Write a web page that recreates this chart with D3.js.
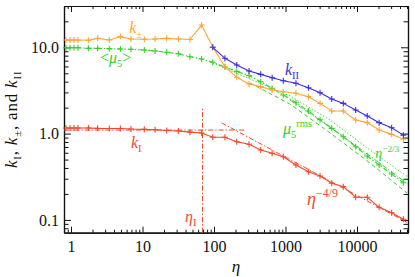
<!DOCTYPE html>
<html>
<head>
<meta charset="utf-8">
<script src="https://cdn.jsdelivr.net/npm/d3@7"></script>
<style>
  body { margin: 0; background: #fff; }
  svg { display: block; }
  .axis path { stroke: #111; stroke-width: 1.2; }
  .axis line { stroke: #111; stroke-width: 1; }
  .axis text { font-family: "Liberation Serif", serif; font-size: 16px; fill: #111; }
</style>
</head>
<body>
<div id="chart"></div>
<script>
// time grid (eta) shared by the marked curves
const eta = [0.85, 0.97, 1.1, 1.25, 1.75, 2.36, 3.43, 4.9, 6.9, 10.6, 15, 21.8, 31.7, 46, 67,
  96, 142, 208, 309, 450, 650, 931, 1400, 2090, 3040, 4430, 6430, 9570, 13900, 20400, 30500, 44500]

const kPM = [12.15, 12.15, 12.15, 12.15, 12.05, 12.7, 12.15, 13.3, 12.5, 12.4, 12.5, 12.7, 12.5, 12.3, 18.1,
  10.1, 5.96, 4.49, 3.75, 3.5, 3.2, 3.06, 2.93, 2.68, 2.24, 1.83, 1.83, 1.44, 1.34, 1.10, 0.98, 0.86]

const mu5 = [9.9, 9.9, 9.9, 9.9, 9.73, 9.73, 9.65, 9.56, 9.48, 9.3, 9.06, 8.75, 8.41, 7.78, 7.32,
  6.70, 5.91, 5.25, 4.71, 3.99, 3.35, 2.80, 2.28, 1.83, 1.45, 1.15, 0.92, 0.705, 0.55, 0.433, 0.34, 0.27]

const kI = [1.16, 1.16, 1.16, 1.16, 1.16, 1.15, 1.146, 1.146, 1.13, 1.12, 1.11, 1.086, 1.07, 1.04, 1.016,
  0.906, 0.906, 0.806, 0.752, 0.646, 0.591, 0.54, 0.433, 0.362, 0.323, 0.266, 0.243, 0.183, 0.183, 0.140, 0.121, 0.1016]

const etaII = [96, 142, 208, 309, 450, 650, 931, 1400, 2090, 3040, 4430, 6430, 9570, 13900, 20400, 30500, 44500]
const kII = [10.0, 7.46, 6.24, 5.31, 4.86, 4.44, 4.10, 3.83, 3.40, 2.98, 2.52, 2.24, 1.88, 1.60, 1.34, 1.17, 0.96]

// mu5 rms curves (no markers)
const rmsDotEta = [97, 319, 1157, 4190, 15200, 51600]
const rmsDot = [6.56, 4.29, 2.73, 1.44, 0.645, 0.314]
const rmsDashEta = [319, 1157, 4190, 15200, 50000]
const rmsDash = [3.86, 2.20, 1.02, 0.456, 0.205]
const rmsDashDotEta = [1157, 4190, 15200, 51600]
const rmsDashDot = [2.45, 1.19, 0.55, 0.26]

// red reference lines
const flatEta = [0.8, 280]
const flatVal = [1.10, 1.10]
const slopeEta = [128, 50000]
const slopeVal = [11.5 * Math.pow(128, -4 / 9), 11.5 * Math.pow(50000, -4 / 9)]
const etaI = 67
const etaITop = 2.03

// ticks
const xMajor = [1, 10, 100, 1000, 10000]
const yMajor = [0.1, 1, 10]

const COL = { pm: "#ffa531", II: "#3b2de0", mu: "#33d12b", I: "#f4472a" }
const SERIF = '"Liberation Serif", "Times New Roman", serif'

const W = 415, H = 277
const PLOT = { L: 64, R: 408, T: 6, B: 232.7 }

const svg = d3.select("#chart").append("svg")
  .attr("width", W)
  .attr("height", H)

const x = d3.scaleLog().domain([0.798, 51650]).range([PLOT.L, PLOT.R])
const y = d3.scaleLog().domain([0.0711, 30.1]).range([PLOT.B, PLOT.T])

// minor ticks 2..9 per decade
function minors(scale) {
  const [a, b] = scale.domain()
  const out = []
  for (let e = Math.floor(Math.log10(a)); e <= Math.ceil(Math.log10(b)); e++) {
    for (let m = 2; m <= 9; m++) {
      const v = m * Math.pow(10, e)
      if (v >= a && v <= b) out.push(v)
    }
  }
  return out
}

// Axes: box with inward ticks on all four sides
svg.append("g").attr("class", "axis")
  .attr("transform", `translate(0, ${PLOT.B})`)
  .call(d3.axisBottom(x).tickValues(xMajor).tickSize(-6).tickSizeOuter(0).tickPadding(8)
    .tickFormat(d3.format("d")))
svg.append("g").attr("class", "axis")
  .attr("transform", `translate(0, ${PLOT.B})`)
  .call(d3.axisBottom(x).tickValues(minors(x)).tickSize(-3).tickSizeOuter(0).tickFormat(""))
svg.append("g").attr("class", "axis")
  .attr("transform", `translate(0, ${PLOT.T})`)
  .call(d3.axisTop(x).tickValues(xMajor).tickSize(-6).tickSizeOuter(0).tickFormat(""))
svg.append("g").attr("class", "axis")
  .attr("transform", `translate(0, ${PLOT.T})`)
  .call(d3.axisTop(x).tickValues(minors(x)).tickSize(-3).tickSizeOuter(0).tickFormat(""))

svg.append("g").attr("class", "axis")
  .attr("transform", `translate(${PLOT.L}, 0)`)
  .call(d3.axisLeft(y).tickValues(yMajor).tickSize(-7).tickSizeOuter(0).tickPadding(5)
    .tickFormat(d3.format(".1f")))
svg.append("g").attr("class", "axis")
  .attr("transform", `translate(${PLOT.L}, 0)`)
  .call(d3.axisLeft(y).tickValues(minors(y)).tickSize(-4.5).tickSizeOuter(0).tickFormat(""))
svg.append("g").attr("class", "axis")
  .attr("transform", `translate(${PLOT.R}, 0)`)
  .call(d3.axisRight(y).tickValues(yMajor).tickSize(-7).tickSizeOuter(0).tickFormat(""))
svg.append("g").attr("class", "axis")
  .attr("transform", `translate(${PLOT.R}, 0)`)
  .call(d3.axisRight(y).tickValues(minors(y)).tickSize(-4.5).tickSizeOuter(0).tickFormat(""))

const plot = svg.append("g")

const line = d3.line().x(d => x(d[0])).y(d => y(d[1]))

function curve(xs, ys, color, dash, marks, width) {
  const pts = d3.zip(xs, ys)
  const p = plot.append("path")
    .datum(pts)
    .attr("fill", "none")
    .attr("stroke", color)
    .attr("stroke-width", width || 1.1)
    .attr("stroke-dasharray", dash || null)
    .attr("d", line)
  if (marks) {
    plot.selectAll(null)
      .data(pts)
      .enter().append("path")
      .attr("transform", d => `translate(${x(d[0])}, ${y(d[1])})`)
      .attr("d", "M-3,0H3M0,-3V3")
      .attr("stroke", color)
      .attr("stroke-width", 1.1)
  }
  return p
}

// green rms curves
curve(rmsDotEta, rmsDot, COL.mu, "1.3,2", false, 1)
curve(rmsDashEta, rmsDash, COL.mu, "4,3", false, 1)
curve(rmsDashDotEta, rmsDashDot, COL.mu, "5,2,1.3,2", false, 1)

// red references
curve(flatEta, flatVal, COL.I, "5,2,1.3,2", false, 1)
curve(slopeEta, slopeVal, COL.I, "5,2,1.3,2", false, 1)
plot.append("line")
  .attr("x1", Math.round(x(etaI)) + 0.5).attr("x2", Math.round(x(etaI)) + 0.5)
  .attr("y1", y(y.domain()[0])).attr("y2", y(etaITop))
  .attr("stroke", COL.I)
  .attr("stroke-width", 1)
  .attr("stroke-dasharray", "5,2,1.5,2")

// main curves
curve(eta, mu5, COL.mu, "5,2,1.3,2", true)
curve(eta, kPM, COL.pm, null, true)
curve(eta, kI, COL.I, null, true)
curve(etaII, kII, COL.II, null, true)

// text labels with sub/superscripts
function label(px, py, parts, color, size, anchor) {
  const t = plot.append("text")
    .attr("x", px).attr("y", py)
    .attr("fill", color)
    .attr("text-anchor", anchor || "start")
    .style("font-family", SERIF)
    .style("font-size", size + "px")
  let shift = 0
  parts.forEach(p => {
    const s = p.sub ? size * 0.28 : p.sup ? -size * 0.45 : 0
    t.append("tspan")
      .attr("dy", s - shift)
      .style("font-style", p.it ? "italic" : "normal")
      .style("font-size", (p.sub || p.sup ? size * 0.66 : size) + "px")
      .text(p.t)
    shift = s
  })
  return t
}

label(x(6.5), y(14.6), [{ t: "k", it: true }, { t: "±", sub: true }], COL.pm, 16)
label(x(2.54), y(6.58), [{ t: "<" }, { t: "μ", it: true }, { t: "5", sub: true }, { t: ">" }], COL.mu, 16)
label(x(984), y(4.78), [{ t: "k", it: true }, { t: "II", sub: true }], COL.II, 16)
label(x(923), y(0.99), [{ t: "μ", it: true }, { t: "5", sub: true }, { t: "rms", sup: true }], COL.mu, 16)
label(x(6.9), y(0.681), [{ t: "k", it: true }, { t: "I", sub: true }], COL.I, 16)
label(x(39.3), y(0.0946), [{ t: "η", it: true }, { t: "I", sub: true }], COL.I, 16)
label(x(2000), y(0.149), [{ t: "η", it: true }, { t: "−4/9", sup: true }], COL.I, 18)
label(x(18000), y(0.521), [{ t: "η", it: true }, { t: "−2/3", sup: true }], COL.mu, 14)

// axis titles
svg.append("text")
  .attr("x", (PLOT.L + PLOT.R) / 2).attr("y", 272)
  .attr("text-anchor", "middle")
  .style("font-family", SERIF).style("font-size", "17px").style("font-style", "italic")
  .attr("fill", "#111")
  .text("η")

const yt = svg.append("text")
  .attr("transform", `translate(17, ${(PLOT.T + PLOT.B) / 2}) rotate(-90)`)
  .attr("text-anchor", "middle")
  .style("font-family", SERIF).style("font-size", "17px")
  .style("letter-spacing", "0.8px")
  .attr("fill", "#111")
const yParts = [{ t: "k", it: true }, { t: "I", sub: true }, { t: ", " }, { t: "k", it: true }, { t: "±", sub: true },
  { t: ", and " }, { t: "k", it: true }, { t: "II", sub: true }]
let sh = 0
yParts.forEach(p => {
  const s = p.sub ? 4 : 0
  yt.append("tspan")
    .attr("dy", s - sh)
    .style("font-style", p.it ? "italic" : "normal")
    .style("font-size", p.sub ? "11px" : "17px")
    .text(p.t)
  sh = s
})
</script>
</body>
</html>
